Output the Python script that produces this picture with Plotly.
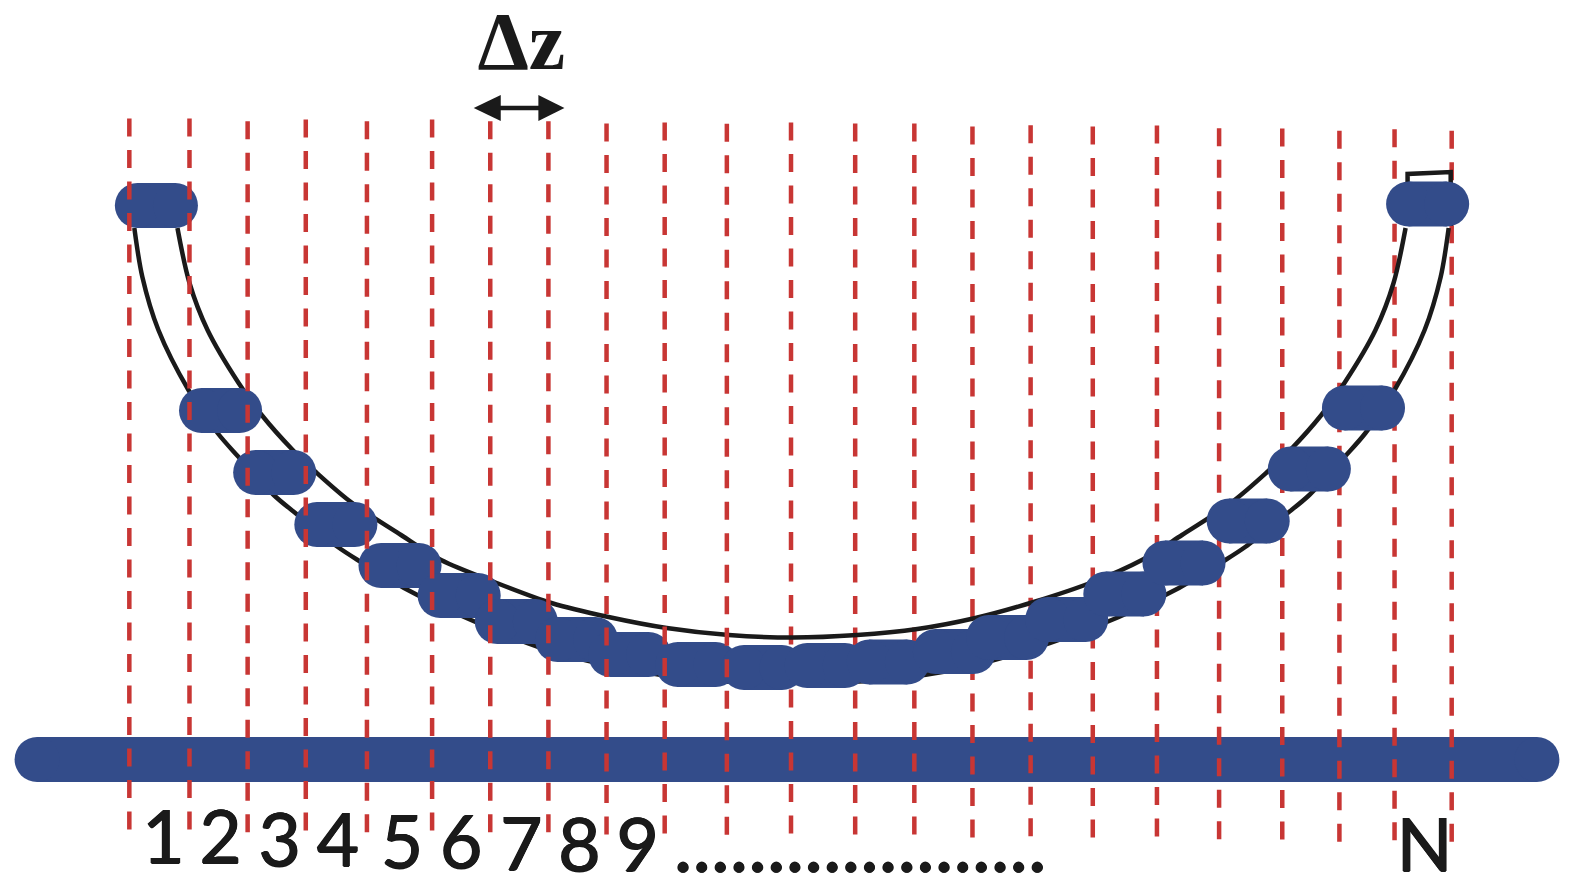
import plotly.graph_objects as go

# everything in pixels, the axes just run over that frame
blue = "rgb(51,76,138)"
red = "rgb(200,54,52)"
black = "rgb(26,26,26)"

# red dashed grid lines
grid_x = [129, 189, 247, 305, 366, 431, 489, 547, 605, 663, 725, 789, 853, 912, 970, 1028, 1090, 1154, 1216, 1279, 1336, 1391, 1448]
grid_top = [118.5, 118.5, 121.2, 119.5, 121.2, 119.5, 121.2, 121.2, 123.5, 122.5, 123.8, 122.5, 123.5, 123.5, 126.5, 125.2, 126.5, 125.5, 128.2, 128.5, 130.8, 129.2, 130.8]
grid_len = 711
n_grid_front = 11  # the left lines sit on top of the pills, the right ones under them

# trough outline
outer_x = [134, 142, 158, 188, 217, 238, 273, 297, 337, 360, 403, 463, 540, 620, 700, 789, 880, 960, 1047, 1116, 1176, 1219, 1242, 1282, 1306, 1341, 1362, 1391, 1421, 1437, 1445]
outer_y = [228, 277, 330, 390, 433, 457, 495, 515, 547, 562, 588, 617, 648, 668, 680, 683, 680, 668, 643, 617, 588, 562, 547, 515, 495, 457, 433, 390, 330, 277, 228]
inner_x = [177, 189, 207, 238, 261, 292, 315, 350, 400, 440, 493, 550, 607, 665, 727, 791, 855, 915, 973, 1031, 1090, 1139, 1179, 1229, 1264, 1287, 1318, 1341, 1372, 1390, 1402]
inner_y = [228, 283, 330, 383, 415, 450, 472, 502, 535, 560, 582, 603, 617, 628, 635, 637.5, 635, 629, 618, 602, 582, 560, 535, 502, 472, 450, 415, 383, 330, 283, 228]
cap_x = [1404, 1404, 1447, 1447]
cap_y = [226, 174, 172, 226]

# blue pills, centres
pill_x = [156, 220, 274, 335, 399, 458, 515, 575, 628, 695, 761, 824, 886, 952, 1005, 1064, 1122, 1181, 1245, 1306, 1360, 1424]
pill_y = [205.5, 410.5, 472.5, 524.5, 565.5, 595.5, 621.5, 639.5, 654.5, 664.5, 667.5, 665.5, 662, 651.5, 637.5, 619.5, 594, 563, 521, 469, 408, 204]
pill_half = 19
pill_h = 45

bar_x = [37, 1533]
bar_y = [759.5, 759.5]

# dz arrow
shaft_x = [494, 544]
shaft_y = [108, 108]
head_l_x = [472.5, 499.5, 499.5, 472.5]
head_l_y = [108, 95, 121, 108]
head_r_x = [563, 537, 537, 563]
head_r_y = [108, 95, 121, 108]

# labels under the grid
digit_labels = ["1", "2", "3", "4", "5", "6", "7", "8", "9"]
digit_x = [163, 220, 279, 337, 401, 460, 520, 578, 636]
digit_y = [845, 845, 848, 848, 850, 850, 852, 853, 853]

# strokes in the reference are heavier than Lato regular
thick = "0.7px 0 0 rgb(26,26,26), -0.7px 0 0 rgb(26,26,26), 0 0.7px 0 rgb(26,26,26), 0 -0.7px 0 rgb(26,26,26)"


def dashed(xs, tops):
    x, y = [], []
    for a, t in zip(xs, tops):
        x += [a, a, None]
        y += [t, t + grid_len, None]
    return go.Scatter(x=x, y=y, mode="lines", line=dict(color=red, width=4.5, dash="18px,13.5px"))


px, py = [], []
for a, b in zip(pill_x, pill_y):
    px += [a - pill_half, a + pill_half, None]
    py += [b, b, None]

fig = go.Figure()

fig.add_trace(go.Scatter(x=bar_x, y=bar_y, mode="lines+markers", line=dict(color=blue, width=pill_h),
                         marker=dict(color=blue, size=pill_h)))
fig.add_trace(dashed(grid_x[n_grid_front:], grid_top[n_grid_front:]))
fig.add_trace(go.Scatter(x=outer_x, y=outer_y, mode="lines", line=dict(color=black, width=4.5, shape="spline", smoothing=0.9)))
fig.add_trace(go.Scatter(x=inner_x, y=inner_y, mode="lines", line=dict(color=black, width=4.5, shape="spline", smoothing=0.9)))
fig.add_trace(go.Scatter(x=cap_x, y=cap_y, mode="lines", line=dict(color=black, width=4.5)))
fig.add_trace(go.Scatter(x=px, y=py, mode="lines+markers", line=dict(color=blue, width=pill_h),
                         marker=dict(color=blue, size=pill_h)))
fig.add_trace(dashed(grid_x[:n_grid_front], grid_top[:n_grid_front]))

fig.add_trace(go.Scatter(x=shaft_x, y=shaft_y, mode="lines", line=dict(color=black, width=4.5)))
fig.add_trace(go.Scatter(x=head_l_x, y=head_l_y, mode="lines", fill="toself", fillcolor=black, line=dict(color=black, width=0)))
fig.add_trace(go.Scatter(x=head_r_x, y=head_r_y, mode="lines", fill="toself", fillcolor=black, line=dict(color=black, width=0)))

fig.add_trace(go.Scatter(x=digit_x, y=digit_y, mode="text", text=digit_labels,
                         textfont=dict(family="Lato", size=73, color=black, shadow=thick)))
fig.add_trace(go.Scatter(x=[1421], y=[853], mode="text", text=["N"],
                         textfont=dict(family="Lato", size=73, color=black, shadow=thick)))
fig.add_trace(go.Scatter(x=[858], y=[852], mode="text", text=["...................."],
                         textfont=dict(family="Lato", size=79, color=black, shadow=thick)))
fig.add_trace(go.Scatter(x=[520], y=[48], mode="text", text=["<b>Δz</b>"],
                         textfont=dict(family="Liberation Serif", size=82, color=black)))

fig.update_layout(
    width=1572,
    height=886,
    margin=dict(l=0, r=0, t=0, b=0),
    paper_bgcolor="white",
    plot_bgcolor="white",
    showlegend=False,
    hovermode=False,
    xaxis=dict(range=[0, 1568], visible=False, fixedrange=True),
    yaxis=dict(range=[886, 0], visible=False, fixedrange=True),
)
fig.write_html("out.html", config=dict(displayModeBar=False),
               post_script="document.body.style.margin='0';document.documentElement.style.overflow='hidden';")
